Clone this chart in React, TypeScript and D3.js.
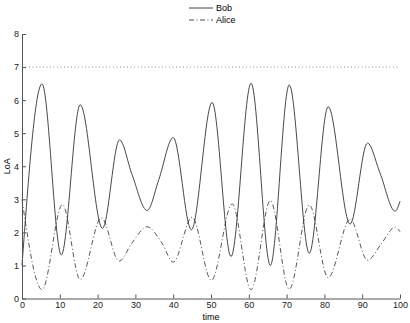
import { useEffect, useRef } from "react";
import * as d3 from "d3";

// Bob: time / LoA samples
const bobTime = [0, 5.3, 10.4, 15.4, 21.3, 25.8, 29.1, 33.1, 36.2, 40, 44.8, 50.3, 55.3, 60.6, 65.7, 70.7, 76, 81, 86.8, 91.4, 94.7, 98.7, 100];
const bobLoa = [1.0, 6.49, 1.32, 5.86, 2.12, 4.8, 3.75, 2.66, 3.6, 4.87, 2.08, 5.93, 1.27, 6.51, 1.0, 6.46, 1.37, 5.8, 2.25, 4.7, 3.8, 2.64, 2.94];

// Alice
const aliceTime = [0, 5.3, 10.7, 15.4, 21, 25.7, 29.1, 33.1, 37, 40, 45, 50.1, 55.6, 60.6, 65.7, 70.7, 76, 81, 86.8, 91.4, 95.2, 98.7, 100];
const aliceLoa = [3.0, 0.27, 2.84, 0.57, 2.44, 1.13, 1.68, 2.17, 1.68, 1.1, 2.46, 0.55, 2.86, 0.27, 2.96, 0.28, 2.83, 0.63, 2.4, 1.16, 1.68, 2.16, 2.02];

const xTicks = [0, 10, 20, 30, 40, 50, 60, 70, 80, 90, 100];
const yTicks = [0, 1, 2, 3, 4, 5, 6, 7, 8];
const threshold = 7;

const App = () => {
    const chartRef = useRef<SVGSVGElement>(null);

    useEffect(() => {
        const svg = d3.select(chartRef.current);
        svg.selectAll("*").remove();

        const width = 410;
        const height = 323;
        const margin = { top: 34, right: 10, bottom: 24.5, left: 22 };
        const font = "'Liberation Sans', Arial, sans-serif";

        const x = d3.scaleLinear().domain([0, 100]).range([margin.left, width - margin.right]);
        const y = d3.scaleLinear().domain([0, 8]).range([height - margin.bottom, margin.top]);

        // threshold line
        svg.append("line")
            .attr("x1", x(0)).attr("x2", x(100))
            .attr("y1", y(threshold)).attr("y2", y(threshold))
            .attr("stroke", "#888")
            .attr("stroke-width", 1)
            .attr("stroke-dasharray", "1,2.5");

        const line = d3.line<[number, number]>()
            .x((d) => x(d[0]))
            .y((d) => y(d[1]))
            .curve(d3.curveMonotoneX);

        const bob = bobTime.map((t, i) => [t, bobLoa[i]] as [number, number]);
        const alice = aliceTime.map((t, i) => [t, aliceLoa[i]] as [number, number]);

        svg.append("path")
            .attr("d", line(alice))
            .attr("fill", "none")
            .attr("stroke", "#444")
            .attr("stroke-width", 0.9)
            .attr("stroke-dasharray", "5,2.5,1,2.5");

        svg.append("path")
            .attr("d", line(bob))
            .attr("fill", "none")
            .attr("stroke", "#333")
            .attr("stroke-width", 0.9);

        // x axis, ticks pointing in
        const xAxis = svg.append("g")
            .attr("transform", `translate(0,${y(0)})`)
            .call(d3.axisBottom(x).tickValues(xTicks).tickSizeInner(-4).tickSizeOuter(0).tickPadding(3));
        xAxis.select(".domain").attr("stroke", "#555");
        xAxis.selectAll(".tick line").attr("stroke", "#555");
        xAxis.selectAll("text").attr("font-family", font).attr("font-size", 9).attr("fill", "#222");

        // y axis
        const yAxis = svg.append("g")
            .attr("transform", `translate(${x(0)},0)`)
            .call(d3.axisLeft(y).tickValues(yTicks).tickSizeInner(-4).tickSizeOuter(0).tickPadding(3));
        yAxis.select(".domain").attr("stroke", "#555");
        yAxis.selectAll(".tick line").attr("stroke", "#555");
        yAxis.selectAll("text").attr("font-family", font).attr("font-size", 9).attr("fill", "#222");

        // axis labels
        svg.append("text")
            .attr("x", (x(0) + x(100)) / 2)
            .attr("y", 320)
            .attr("text-anchor", "middle")
            .attr("font-family", font)
            .attr("font-size", 9)
            .text("time");

        svg.append("text")
            .attr("transform", `translate(10,${(y(0) + y(8)) / 2}) rotate(-90)`)
            .attr("text-anchor", "middle")
            .attr("font-family", font)
            .attr("font-size", 9)
            .text("LoA");

        // legend
        const legend = [
            { name: "Bob", dash: null, y: 8 },
            { name: "Alice", dash: "5,2.5,1,2.5", y: 20 },
        ];
        legend.forEach((d) => {
            svg.append("line")
                .attr("x1", 189).attr("x2", 213)
                .attr("y1", d.y).attr("y2", d.y)
                .attr("stroke", "#333")
                .attr("stroke-width", 0.9)
                .attr("stroke-dasharray", d.dash);
            svg.append("text")
                .attr("x", 216)
                .attr("y", d.y + 3)
                .attr("font-family", font)
                .attr("font-size", 9)
                .text(d.name);
        });
    }, []);

    return (
        <svg
            ref={chartRef}
            width={410}
            height={323}
            style={{ position: "absolute", left: 0, top: 0, background: "#fff" }}
        ></svg>
    );
};

export default App;
